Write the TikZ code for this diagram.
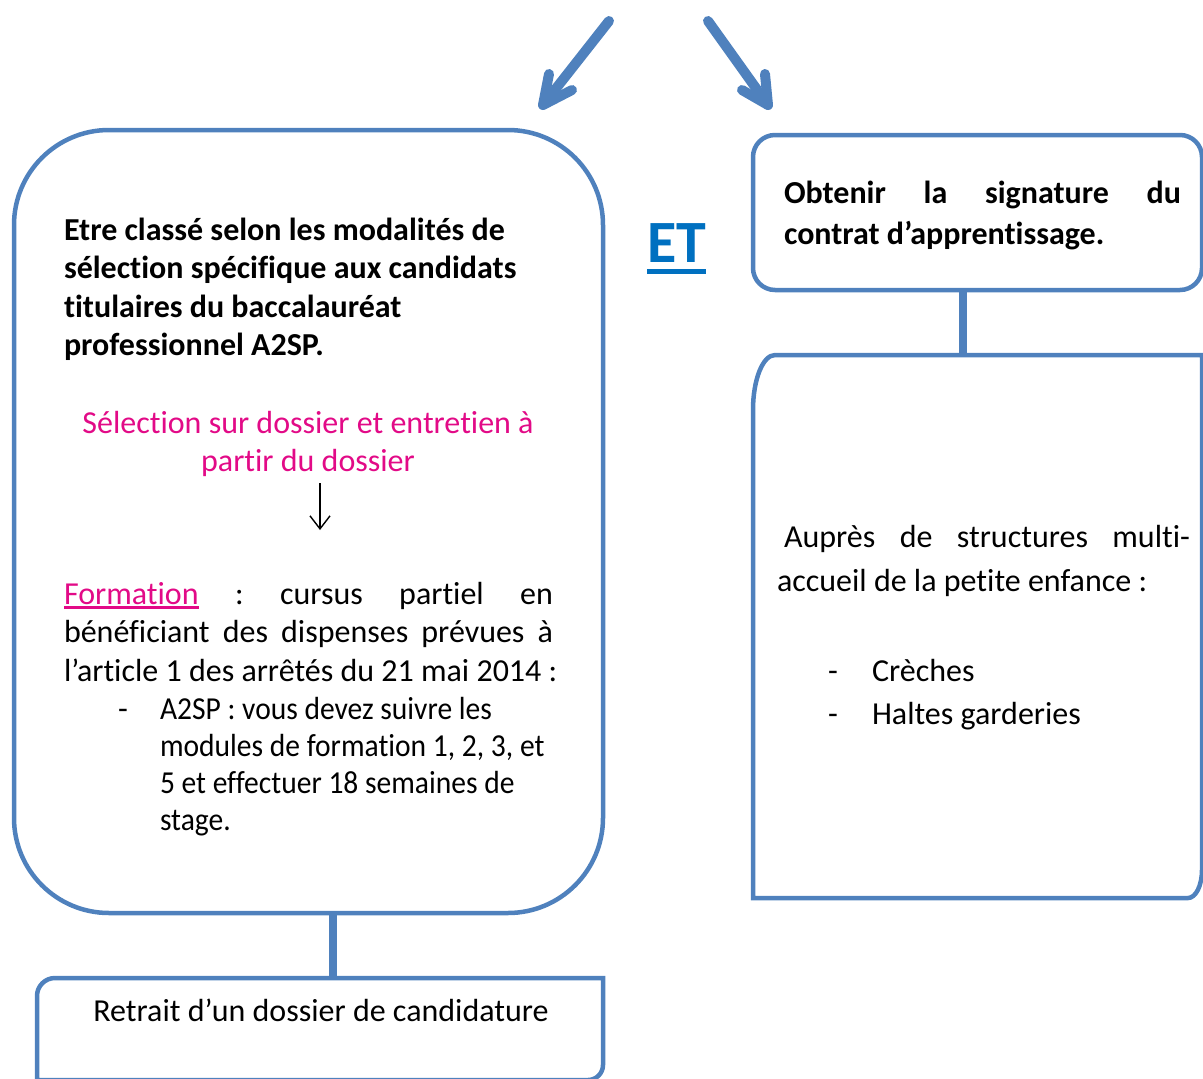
\documentclass[tikz,border=0pt]{standalone}
\usepackage{fontspec}
\setmainfont{Carlito}[Ligatures={NoCommon}]
\usetikzlibrary{arrows.meta}
\definecolor{boxblue}{RGB}{79,129,189}
\definecolor{etblue}{RGB}{0,112,192}
\definecolor{pinkc}{RGB}{226,10,135}
\newsavebox\ulbox
\newcommand\myul[3]{\sbox\ulbox{#3}\rlap{\rule[-#1]{\wd\ulbox}{#2}}\usebox\ulbox}
\newcommand\cond[1]{\scalebox{0.923}[1]{#1}}
\frenchspacing
\begin{document}
\begin{tikzpicture}[x=1pt,y=-1pt,
  box/.style={draw=boxblue,line width=4.5pt},
  frame/.style={draw=none,inner sep=0pt,outer sep=0pt},
  conn/.style={draw=boxblue,line width=8pt},
  bigarrow/.style={draw=boxblue,line width=10pt,line cap=round,line join=round},
  thinarrow/.style={draw=black,line width=1.4pt,-{Straight Barb[length=13pt,width=20pt]}},
  txt/.style={anchor=base west,inner sep=0pt,outer sep=0pt,font=\fontsize{32pt}{38pt}\selectfont},
  btxt/.style={txt,font=\fontsize{32pt}{38pt}\selectfont\bfseries},
]
\useasboundingbox (0,0) rectangle (1203,1079);

% frames
\node[frame,minimum width=589pt,minimum height=783pt] (left) at (308.5,521.5) {};
\node[frame,minimum width=449pt,minimum height=155pt] (rtop) at (977.5,212.5) {};
\node[frame,minimum width=566pt,minimum height=102pt] (bot) at (320,1029) {};
\node[frame,minimum width=449pt,minimum height=543pt] (rlow) at (977.5,626.5) {};

% connectors
\coordinate (cl) at (333,0);
\coordinate (cr) at (963,0);
\draw[conn] (left.south -| cl) -- (bot.north -| cl);
\draw[conn] (rtop.south -| cr) -- (rlow.north -| cr);

% box outlines
\draw[box,rounded corners=95pt] (left.north west) rectangle (left.south east);
\draw[box,rounded corners=22pt] (rtop.north west) rectangle (rtop.south east);
\draw[box] (bot.south west) -- ([yshift=-18pt]bot.north west)
  arc[start angle=180,end angle=90,radius=18pt] -- (bot.north east)
  -- ([yshift=15pt]bot.south east) arc[start angle=0,end angle=-90,radius=15pt] -- cycle;
\draw[box] (rlow.south west) -- ([yshift=-55pt]rlow.north west)
  arc[start angle=180,end angle=90,x radius=22pt,y radius=55pt] -- (rlow.north east)
  -- ([yshift=28pt]rlow.south east) arc[start angle=0,end angle=-90,x radius=14pt,y radius=28pt] -- cycle;

% top arrows
\coordinate (a1s) at (609,21);
\coordinate (a1t) at (543,105);
\coordinate (a1b) at (549,74);
\coordinate (a1c) at (572,90);
\coordinate (a2s) at (708,21);
\coordinate (a2t) at (768,105);
\coordinate (a2b) at (765,74);
\coordinate (a2c) at (742,90);
\draw[bigarrow] (a1s) -- (a1t);
\draw[bigarrow] (a1b) -- (a1t) -- (a1c);
\draw[bigarrow] (a2s) -- (a2t);
\draw[bigarrow] (a2b) -- (a2t) -- (a2c);

% left box text
\node[btxt] (l1) at (64,240) {Etre classé selon les modalités de};
\node[btxt] (l2) at (64,278.5) {sélection spécifique aux candidats};
\node[btxt] (l3) at (64,317) {titulaires du baccalauréat};
\node[btxt] (l4) at (64,355.5) {professionnel A2SP.};
\node[txt,anchor=base,text=pinkc] (p1) at (308,433) {Sélection sur dossier et entretien à};
\node[txt,anchor=base,text=pinkc] (p2) at (308,471) {partir du dossier};
\coordinate (d1) at (320,483);
\coordinate (d2) at (320,530);
\draw[thinarrow] (d1) -- (d2);
\node[txt] (f1) at (64,604) {\makebox[489pt][s]{{\color{pinkc}\myul{4.8pt}{2.5pt}{Formation}} : cursus partiel en}};
\node[txt] (f2) at (64,642.5) {\makebox[489pt][s]{bénéficiant des dispenses prévues à}};
\node[txt] (f3) at (64,681) {l’article 1 des arrêtés du 21 mai 2014 :};
\node[txt] (fd) at (118,719) {-};
\node[txt] (i1) at (160,719) {\cond{A2SP : vous devez suivre les}};
\node[txt] (i2) at (160,756) {\cond{modules de formation 1, 2, 3, et}};
\node[txt] (i3) at (160,793) {\cond{5 et effectuer 18 semaines de}};
\node[txt] (i4) at (160,830) {\cond{stage.}};

% ET
\node[anchor=base west,inner sep=0pt,font=\fontsize{60pt}{70pt}\selectfont\bfseries,text=etblue] (et) at (647,262) {\myul{12pt}{5pt}{ET}};

% right top text
\node[btxt] (o1) at (784,203) {\makebox[397pt][s]{Obtenir la signature du}};
\node[btxt] (o2) at (784,244) {contrat d’apprentissage.};

% right lower text
\node[txt] (r1) at (784,547) {\makebox[406pt][s]{Auprès de structures multi-}};
\node[txt] (r2) at (777,591) {accueil de la petite enfance :};
\node[txt] (rd1) at (828,681) {-};
\node[txt] (rc1) at (872,681) {Crèches};
\node[txt] (rd2) at (828,724) {-};
\node[txt] (rc2) at (872,724) {Haltes garderies};

% bottom text
\node[txt,anchor=base] (b1) at (321,1021) {Retrait d’un dossier de candidature};
\end{tikzpicture}
\end{document}
